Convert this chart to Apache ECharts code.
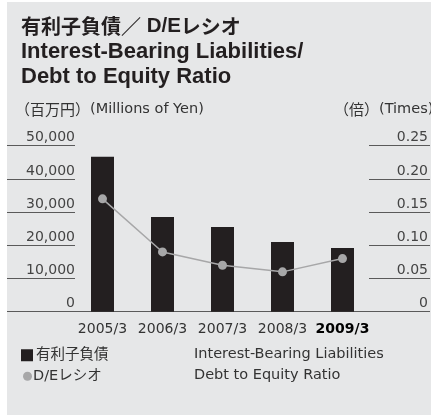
<!DOCTYPE html>
<html>
<head>
<meta charset="utf-8">
<style>
  html, body { margin: 0; padding: 0; background: #ffffff; }
  #panel { position: absolute; left: 7px; top: 2px; width: 424px; height: 413px; background: #e6e7e8; }
  #chart { position: absolute; left: 0; top: 0; width: 431px; height: 415px; }
</style>
<script src="https://cdn.jsdelivr.net/npm/echarts@6/dist/echarts.min.js"></script>
</head>
<body>
<div id="panel"></div>
<div id="chart"></div>
<script>
// Fiscal years (March year-end)
const years = ['2005/3', '2006/3', '2007/3', '2008/3', '2009/3'];
// Interest-bearing liabilities, millions of yen
const liabilities = [46700, 28500, 25500, 21000, 19200];
// Debt to equity ratio, times
const deRatio = [0.17, 0.09, 0.07, 0.06, 0.08];
// Axis tick settings
const leftAxis = { min: 0, max: 50000, interval: 10000 };
const rightAxis = { min: 0, max: 0.25, interval: 0.05 };

const FONT = '"DejaVu Sans", "Noto Sans CJK JP", sans-serif';
const CJK = '"Noto Sans CJK JP", sans-serif';
const HEAD = '"Liberation Sans", "Noto Sans CJK JP", sans-serif';
const INK = '#231f20';
const TEXT = '#333333';
const GRID = '#5a5a5a';

const chart = echarts.init(document.getElementById('chart'), null, { renderer: 'canvas' });

chart.setOption({
  backgroundColor: 'transparent',
  animation: false,
  textStyle: { fontFamily: FONT },
  title: [
    {
      text: '{c|有利子負債／}{d| D/E}{c|レシオ}\n{l|Interest-Bearing Liabilities/}\n{l|Debt to Equity Ratio}',
      left: 21, top: 14, padding: 0,
      textStyle: {
        color: INK, lineHeight: 25,
        rich: {
          c: { fontFamily: CJK, fontSize: 20, fontWeight: 'bold', color: INK, lineHeight: 25 },
          d: { fontFamily: HEAD, fontSize: 20.5, fontWeight: 'bold', color: INK, lineHeight: 25 },
          l: { fontFamily: HEAD, fontSize: 22, fontWeight: 'bold', color: INK, lineHeight: 25 }
        }
      }
    },
    {
      text: '{c|（百万円）}{l|(Millions of Yen)}',
      left: 15, top: 102, padding: 0,
      textStyle: {
        fontWeight: 'normal',
        rich: {
          c: { fontFamily: CJK, fontSize: 15, fontWeight: 'normal', color: TEXT },
          l: { fontFamily: FONT, fontSize: 14.5, fontWeight: 'normal', color: TEXT }
        }
      }
    },
    {
      text: '{c|（倍）}{l|(Times)}',
      left: 334, top: 102, padding: 0,
      textStyle: {
        fontWeight: 'normal',
        rich: {
          c: { fontFamily: CJK, fontSize: 15, fontWeight: 'normal', color: TEXT },
          l: { fontFamily: FONT, fontSize: 14.5, fontWeight: 'normal', color: TEXT }
        }
      }
    }
  ],
  legend: [
    {
      data: [{ name: '有利子負債', icon: 'rect' }],
      left: 21, top: 348, padding: 0, itemWidth: 12, itemHeight: 12, itemGap: 0,
      textStyle: { fontFamily: FONT, fontSize: 14.5, color: TEXT, padding: [0, 0, 0, -2] }
    },
    {
      data: [{ name: 'D/Eレシオ', icon: 'circle' }],
      left: 23, top: 369, padding: 0, itemWidth: 9, itemHeight: 9, itemGap: 0,
      textStyle: { fontFamily: FONT, fontSize: 14.5, color: TEXT, padding: [0, 0, 0, -4] }
    }
  ],
  graphic: [
    {
      type: 'text', left: 194, top: 347,
      style: { text: 'Interest-Bearing Liabilities', font: '14.5px ' + FONT, fill: TEXT }
    },
    {
      type: 'text', left: 194, top: 368,
      style: { text: 'Debt to Equity Ratio', font: '14.5px ' + FONT, fill: TEXT }
    }
  ],
  grid: { left: 72.5, right: 57.5, top: 145.7, bottom: 103.3, containLabel: false },
  xAxis: {
    type: 'category',
    data: years.map((y, i) => i === years.length - 1
      ? { value: y, textStyle: { fontWeight: 'bold', color: '#000000' } }
      : y),
    axisLine: { lineStyle: { color: GRID, width: 1 } },
    axisTick: { show: false },
    axisLabel: { fontFamily: FONT, fontSize: 14, color: TEXT, margin: 11, interval: 0 }
  },
  yAxis: [
    {
      type: 'value', position: 'left', offset: -2.5,
      min: leftAxis.min, max: leftAxis.max, interval: leftAxis.interval,
      splitLine: { show: false },
      axisLine: { show: false },
      axisTick: { show: true, length: 68, lineStyle: { color: GRID, width: 1 } },
      axisLabel: {
        fontFamily: FONT, fontSize: 14, color: '#444444',
        align: 'right', verticalAlign: 'bottom', margin: 0, padding: [0, 0, 1, 0],
        formatter: v => v.toLocaleString('en-US')
      }
    },
    {
      type: 'value', position: 'right', offset: -3.5,
      min: rightAxis.min, max: rightAxis.max, interval: rightAxis.interval,
      splitLine: { show: false },
      axisLine: { show: false },
      axisTick: { show: true, length: 61, lineStyle: { color: GRID, width: 1 } },
      axisLabel: {
        fontFamily: FONT, fontSize: 14, color: '#444444',
        align: 'right', verticalAlign: 'bottom', margin: 59, padding: [0, 0, 1, 0],
        formatter: v => v === 0 ? '0' : v.toFixed(2)
      }
    }
  ],
  series: [
    {
      name: '有利子負債', type: 'bar', yAxisIndex: 0,
      data: liabilities, barWidth: 23,
      itemStyle: { color: INK }
    },
    {
      name: 'D/Eレシオ', type: 'line', yAxisIndex: 1,
      data: deRatio, symbol: 'circle', symbolSize: 9,
      itemStyle: { color: '#a7a7a8' },
      lineStyle: { color: '#a7a7a8', width: 1.5 },
      z: 5
    }
  ]
});
</script>
</body>
</html>
